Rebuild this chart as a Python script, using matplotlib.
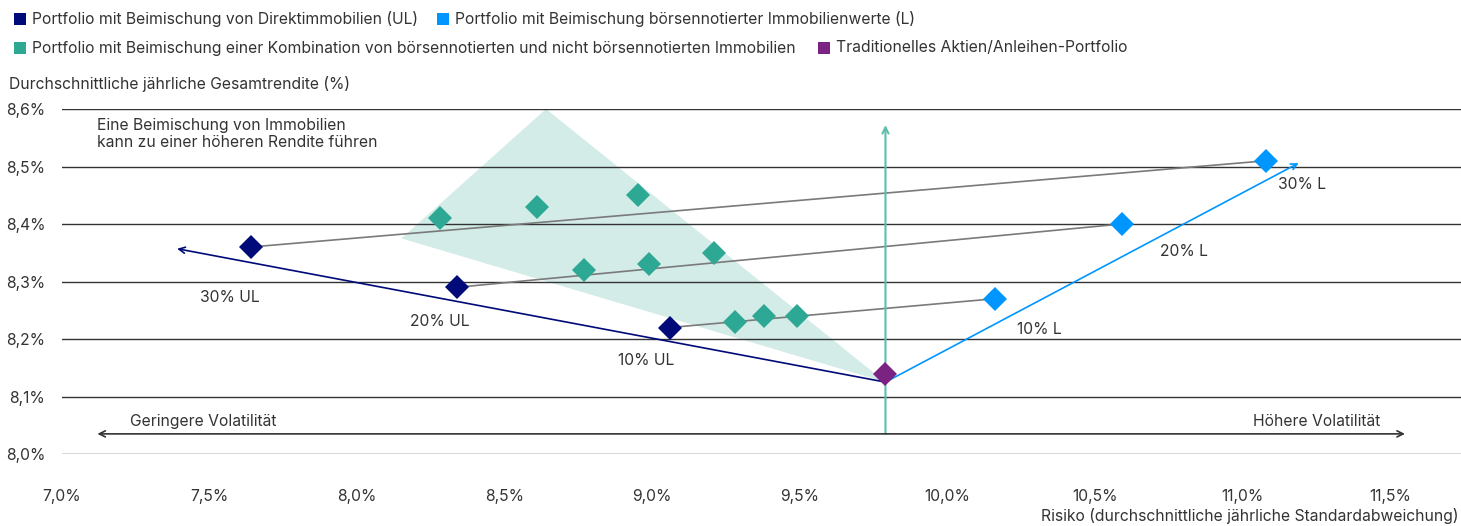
import matplotlib
matplotlib.use('Agg')
from matplotlib import pyplot as plt
from matplotlib.patches import Rectangle, Polygon
import numpy as np

plt.rcParams['font.family'] = ['Inter', 'DejaVu Sans']

# risk (x, %) and return (y, %) per portfolio
ul_risk = [7.64, 8.34, 9.06]
ul_ret = [8.36, 8.29, 8.22]
ul_labels = ['30% UL', '20% UL', '10% UL']

l_risk = [11.08, 10.59, 10.16]
l_ret = [8.51, 8.40, 8.27]
l_labels = ['30% L', '20% L', '10% L']

mix_risk = [8.28, 8.61, 8.95, 8.77, 8.99, 9.21, 9.28, 9.38, 9.49]
mix_ret = [8.41, 8.43, 8.45, 8.32, 8.33, 8.35, 8.23, 8.24, 8.24]

trad_risk = [9.79]
trad_ret = [8.14]

# shaded area of the mixed portfolios
band_x = [8.15, 8.64, 9.79]
band_y = [8.375, 8.60, 8.125]

# arrow start and ends
origin = (9.79, 8.125)
ul_arrow_end = (7.39, 8.357)
l_arrow_end = (11.19, 8.506)
up_arrow = (8.035, 8.572)
vol_range = (7.12, 11.55, 8.035)

legend_items = [
    ('Portfolio mit Beimischung von Direktimmobilien (UL)', '#000a78'),
    ('Portfolio mit Beimischung börsennotierter Immobilienwerte (L)', '#0096ff'),
    ('Portfolio mit Beimischung einer Kombination von börsennotierten und nicht börsennotierten Immobilien', '#2ca894'),
    ('Traditionelles Aktien/Anleihen-Portfolio', '#7b2382'),
]

W, H = 1461, 526
fs = 11.3
fig = plt.figure(figsize=(W / 100, H / 100), dpi=100)
ax = fig.add_axes([62 / W, (H - 454) / H, 1 - 62 / W, (454 - 109) / H])
ax.set_xlim(7.0, 11.74)
ax.set_ylim(8.0, 8.6)
for s in ax.spines.values():
    s.set_visible(False)

xt = np.arange(7.0, 11.51, 0.5)
yt = np.arange(8.0, 8.61, 0.1)
ax.set_xticks(xt)
ax.set_xticklabels([('%.1f%%' % v).replace('.', ',') for v in xt])
ax.set_yticks(yt)
ax.set_yticklabels([('%.1f%%' % v).replace('.', ',') for v in yt])
ax.tick_params(length=0, labelsize=fs, colors='#333333')
ax.tick_params(axis='y', pad=12)
ax.tick_params(axis='x', pad=25)

for v in yt:
    ax.axhline(v, color='#333333', lw=1.0, zorder=1)

ax.add_patch(Polygon(list(zip(band_x, band_y)), closed=True, color='#d3ece8', lw=0, zorder=0))

# grey connectors UL -> L
for i in range(3):
    ax.plot([ul_risk[i], l_risk[i]], [ul_ret[i], l_ret[i]], color='#7a7a7a', lw=1.2, zorder=2)

arrow = dict(arrowstyle='->', lw=1.2, shrinkA=0, shrinkB=0, mutation_scale=11)
ax.annotate('', xy=ul_arrow_end, xytext=origin,
            arrowprops=dict(arrow, color='#000a78'), zorder=2)
ax.annotate('', xy=l_arrow_end, xytext=origin,
            arrowprops=dict(arrow, color='#0096ff'), zorder=2)
ax.annotate('', xy=(origin[0], up_arrow[1]), xytext=(origin[0], up_arrow[0]),
            arrowprops=dict(arrow, color='#5bbfae', lw=1.5), zorder=2)
ax.annotate('', xy=(vol_range[1], vol_range[2]), xytext=(vol_range[0], vol_range[2]),
            arrowprops=dict(arrowstyle='<->', lw=1.2, color='#333333',
                            shrinkA=0, shrinkB=0, mutation_scale=11), zorder=2)

ms = 12.5
ax.plot(mix_risk, mix_ret, 'D', color='#2ca894', ms=ms, mew=0, zorder=3)
ax.plot(ul_risk, ul_ret, 'D', color='#000a78', ms=ms, mew=0, zorder=3)
ax.plot(l_risk, l_ret, 'D', color='#0096ff', ms=ms, mew=0, zorder=3)
ax.plot(trad_risk, trad_ret, 'D', color='#7b2382', ms=ms, mew=0, zorder=3)

# point labels
lab_kw = dict(fontsize=fs, color='#333333', ha='center', va='center')
ul_off = [(-0.07, -0.087), (-0.06, -0.06), (-0.08, -0.057)]
l_off = [(0.12, -0.042), (0.21, -0.047), (0.15, -0.053)]
for i in range(3):
    ax.text(ul_risk[i] + ul_off[i][0], ul_ret[i] + ul_off[i][1], ul_labels[i], **lab_kw)
    ax.text(l_risk[i] + l_off[i][0], l_ret[i] + l_off[i][1], l_labels[i], **lab_kw)

ax.text(7.12, 8.585, 'Eine Beimischung von Immobilien\nkann zu einer höheren Rendite führen',
        fontsize=fs, color='#333333', ha='left', va='top', linespacing=1.2)
ax.text(7.23, 8.057, 'Geringere Volatilität', fontsize=fs, color='#333333', ha='left', va='center')
ax.text(11.465, 8.057, 'Höhere Volatilität', fontsize=fs, color='#333333', ha='right', va='center')

# legend, two rows of coloured squares
pos = [(14, 19), (437, 19), (14, 48), (818, 48)]
for (txt, col), (px, py) in zip(legend_items, pos):
    fig.add_artist(Rectangle((px / W, (H - py - 6) / H), 12 / W, 12 / H,
                             transform=fig.transFigure, color=col, lw=0))
    fig.text((px + 18) / W, (H - py) / H, txt, fontsize=11.3, color='#333333',
             ha='left', va='center')

fig.text(9 / W, (H - 84) / H, 'Durchschnittliche jährliche Gesamtrendite (%)',
         fontsize=fs, color='#333333', ha='left', va='center')
fig.text(1459 / W, (H - 516) / H, 'Risiko (durchschnittliche jährliche Standardabweichung)',
         fontsize=fs, color='#333333', ha='right', va='center')

fig.savefig('out.png', dpi=100)
